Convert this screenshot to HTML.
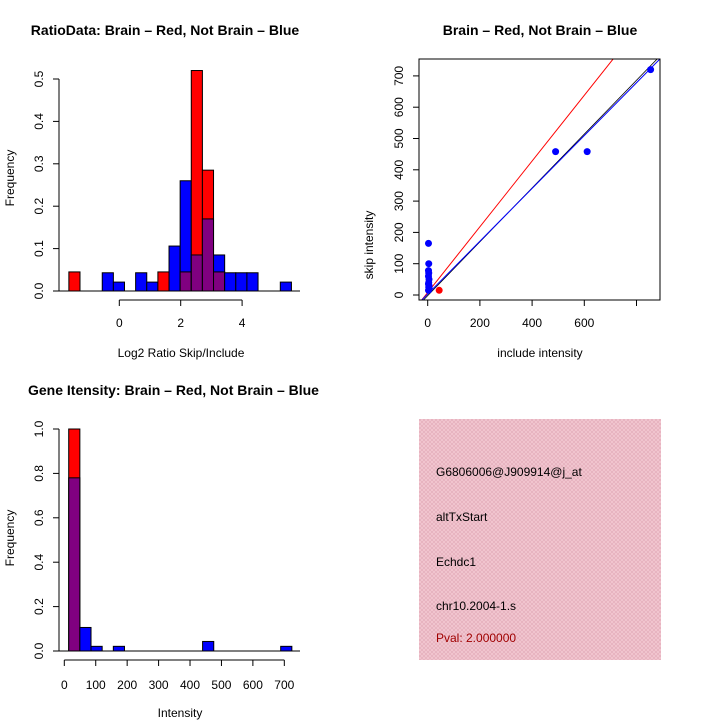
<!DOCTYPE html>
<html><head><meta charset="utf-8"><style>
body{margin:0;background:#fff}
svg{display:block;font-family:"Liberation Sans",sans-serif}
</style></head><body>
<svg id="s" width="720" height="720" viewBox="0 0 720 720">
<defs><pattern id="hatch" width="4" height="4" patternUnits="userSpaceOnUse"><rect width="4" height="4" fill="#f2c6d0"/><path d="M0 0L4 4M4 0L0 4" stroke="#e2aab8" stroke-width="0.6"/></pattern></defs>
<text x="165" y="35" text-anchor="middle" font-size="14" font-weight="bold">RatioData: Brain – Red, Not Brain – Blue</text>
<text x="540" y="35" text-anchor="middle" font-size="14" font-weight="bold">Brain – Red, Not Brain – Blue</text>
<text x="28" y="395" font-size="14" font-weight="bold">Gene Itensity: Brain – Red, Not Brain – Blue</text>
<text x="181" y="357" text-anchor="middle" font-size="12">Log2 Ratio Skip/Include</text>
<text transform="translate(14,178) rotate(-90)" text-anchor="middle" font-size="12">Frequency</text>
<text x="540" y="357" text-anchor="middle" font-size="12">include intensity</text>
<text transform="translate(373,245) rotate(-90)" text-anchor="middle" font-size="12">skip intensity</text>
<text x="180" y="717" text-anchor="middle" font-size="12">Intensity</text>
<text transform="translate(14,538) rotate(-90)" text-anchor="middle" font-size="12">Frequency</text>
<g>
<rect x="419" y="419" width="242" height="241" fill="url(#hatch)"/>
<text x="436" y="476" font-size="12">G6806006@J909914@j_at</text>
<text x="436" y="521" font-size="12">altTxStart</text>
<text x="436" y="566" font-size="12">Echdc1</text>
<text x="436" y="610" font-size="12">chr10.2004-1.s</text>
<text x="436" y="642" font-size="12" fill="#a00000">Pval: 2.000000</text>
</g>
</svg>
<script>
// Ratio histogram data
const ratioBinStart = -1.643, ratioBinWidth = 0.3625;
const ratioRed  = [0.045,0,0,0,0,0,0,0,0.045,0,0.045,0.52,0.285,0.045,0,0,0,0,0,0];
const ratioBlue = [0,0,0,0.043,0.021,0,0.043,0.021,0,0.106,0.26,0.085,0.17,0.085,0.043,0.043,0.043,0,0,0.021];
const ratioXTicks = [0,2,4];
const ratioYTicks = [0,0.1,0.2,0.3,0.4,0.5];
// Intensity histogram data
const intBinStart = 14, intBinWidth = 35.5;
const intRed  = [1.0,0,0,0,0,0,0,0,0,0,0,0,0,0,0,0,0,0,0,0];
const intBlue = [0.78,0.106,0.021,0,0.021,0,0,0,0,0,0,0,0.043,0,0,0,0,0,0,0.021];
const intXTicks = [0,100,200,300,400,500,600,700];
const intYTicks = [0,0.2,0.4,0.6,0.8,1.0];
// Scatter data
const blueX = [490,611,854,3,4,3,4,3,5,4,3,5,4,6,3];
const blueY = [458,458,720,165,100,78,70,60,50,40,35,30,25,20,15];
const redX = [44];
const redY = [15];
const scatXTicks = [0,200,400,600,800];
const scatYTicks = [0,100,200,300,400,500,600,700];
const redLine = [1.05,8], blueLine = [0.844,3], blackLine = [0.86,-2];

const svg = document.getElementById('s');
const NS = 'http://www.w3.org/2000/svg';
function mk(t, a){const e=document.createElementNS(NS,t);for(const k in a)e.setAttribute(k,a[k]);svg.appendChild(e);return e;}

// ---- ratio hist
const rx = v => 119.3 + v*30.7, ry = v => 291 - v*424;
for(let i=0;i<ratioRed.length;i++){
  const r=ratioRed[i], b=ratioBlue[i], x0=rx(ratioBinStart+i*ratioBinWidth), x1=rx(ratioBinStart+(i+1)*ratioBinWidth);
  const hi=Math.max(r,b), lo=Math.min(r,b);
  if(hi>0){const e=mk('rect',{x:x0,y:ry(hi),width:x1-x0,height:ry(0)-ry(hi),fill:r>b?'#ff0000':'#0000ff',stroke:'#000','stroke-width':1});
    
    }
  if(lo>0){const e=mk('rect',{x:x0,y:ry(lo),width:x1-x0,height:ry(0)-ry(lo),fill:'#800080',stroke:'#000','stroke-width':1});
    
    }
}
mk('line',{x1:59,x2:300,y1:291,y2:291,stroke:'#000'});
mk('line',{x1:59,x2:59,y1:ry(0),y2:ry(0.5),stroke:'#000'});
ratioYTicks.forEach(v=>{mk('line',{x1:53,x2:59,y1:ry(v),y2:ry(v),stroke:'#000'});
  const t=mk('text',{transform:`translate(43,${ry(v)}) rotate(-90)`,'text-anchor':'middle','font-size':12});t.textContent=v.toFixed(1);
  
  });
mk('line',{x1:rx(0),x2:rx(4),y1:300,y2:300,stroke:'#000'});
ratioXTicks.forEach(v=>{mk('line',{x1:rx(v),x2:rx(v),y1:300,y2:306,stroke:'#000'});
  const t=mk('text',{x:rx(v),y:327,'text-anchor':'middle','font-size':12});t.textContent=v;
  
  });

// ---- intensity hist
const ix = v => 64.3 + v*0.3143, iy = v => 651 - v*222;
for(let i=0;i<intRed.length;i++){
  const r=intRed[i], b=intBlue[i], x0=ix(intBinStart+i*intBinWidth), x1=ix(intBinStart+(i+1)*intBinWidth);
  const hi=Math.max(r,b), lo=Math.min(r,b);
  if(hi>0){const e=mk('rect',{x:x0,y:iy(hi),width:x1-x0,height:iy(0)-iy(hi),fill:r>b?'#ff0000':'#0000ff',stroke:'#000','stroke-width':1});
    
    }
  if(lo>0){const e=mk('rect',{x:x0,y:iy(lo),width:x1-x0,height:iy(0)-iy(lo),fill:'#800080',stroke:'#000','stroke-width':1});
    
    }
}
mk('line',{x1:59,x2:300,y1:651,y2:651,stroke:'#000'});
mk('line',{x1:59,x2:59,y1:iy(0),y2:iy(1),stroke:'#000'});
intYTicks.forEach(v=>{mk('line',{x1:53,x2:59,y1:iy(v),y2:iy(v),stroke:'#000'});
  const t=mk('text',{transform:`translate(43,${iy(v)}) rotate(-90)`,'text-anchor':'middle','font-size':12});t.textContent=v.toFixed(1);
  
  });
mk('line',{x1:ix(0),x2:ix(700),y1:660,y2:660,stroke:'#000'});
intXTicks.forEach(v=>{mk('line',{x1:ix(v),x2:ix(v),y1:660,y2:666,stroke:'#000'});
  const t=mk('text',{x:ix(v),y:689,'text-anchor':'middle','font-size':12});t.textContent=v;
  
  });

// ---- scatter
const sx = v => 427.7 + v*0.261, sy = v => 295 - v*0.313;
const X0=419,X1=660,Y0=59,Y1=300;
const cp=mk('clipPath',{id:'cp'});
const cr=document.createElementNS(NS,'rect');cp.appendChild(cr);
cr.setAttribute('x',X0);cr.setAttribute('y',Y0);cr.setAttribute('width',X1-X0);cr.setAttribute('height',Y1-Y0);
function abl(p,col,name,w){const xa=-100,xb=1000;const e=mk('line',{x1:sx(xa),y1:sy(p[0]*xa+p[1]),x2:sx(xb),y2:sy(p[0]*xb+p[1]),stroke:col,'stroke-width':w,'clip-path':'url(#cp)'});
  
  }
abl(blackLine,'#000','identity-line',0.8);
abl(redLine,'#ff0000','brain-fit-line',1);
abl(blueLine,'#0000ff','not-brain-fit-line',1);
for(let i=0;i<blueX.length;i++){const e=mk('circle',{cx:sx(blueX[i]),cy:sy(blueY[i]),r:3.5,fill:'#0000ff'});
  
  }
for(let i=0;i<redX.length;i++){const e=mk('circle',{cx:sx(redX[i]),cy:sy(redY[i]),r:3.5,fill:'#ff0000'});
  
  }
mk('rect',{x:X0,y:Y0,width:X1-X0,height:Y1-Y0,fill:'none',stroke:'#000'});
scatYTicks.forEach(v=>{mk('line',{x1:X0-6,x2:X0,y1:sy(v),y2:sy(v),stroke:'#000'});
  const t=mk('text',{transform:`translate(403,${sy(v)}) rotate(-90)`,'text-anchor':'middle','font-size':12});t.textContent=v;
  
  });
scatXTicks.forEach(v=>{mk('line',{x1:sx(v),x2:sx(v),y1:Y1,y2:Y1+6,stroke:'#000'});
  if(v<800){const t=mk('text',{x:sx(v),y:327,'text-anchor':'middle','font-size':12});t.textContent=v;
  
  }});
</script>
</body></html>
